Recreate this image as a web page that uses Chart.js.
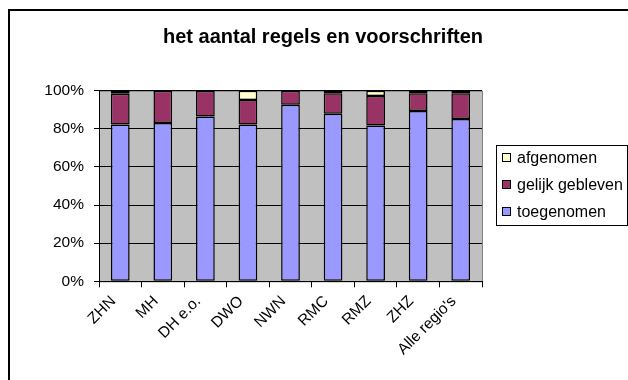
<!DOCTYPE html>
<html>
<head>
<meta charset="utf-8">
<script src="https://cdn.jsdelivr.net/npm/chart.js@4/dist/chart.umd.min.js"></script>
<style>
  html, body { margin: 0; padding: 0; background: #fff; }
  canvas { display: block; }
</style>
</head>
<body>
<canvas id="grafiekRegels" width="628" height="380"></canvas>
<script>
// regio's op de x-as
const regios = ['ZHN', 'MH', 'DH e.o.', 'DWO', 'NWN', 'RMC', 'RMZ', 'ZHZ', "Alle regio's"];

// percentages per regio (samen 100%)
const toegenomen     = [82.3, 83.0, 86.5, 82.3, 92.6, 87.9, 81.8, 89.3, 85.1];
const gelijkGebleven = [16.1, 17.0, 13.5, 12.8,  7.4, 10.7, 15.4,  9.3, 13.5];
const afgenomen      = [ 1.6,  0.0,  0.0,  4.9,  0.0,  1.4,  2.8,  1.4,  1.4];

const yTicks = [0, 20, 40, 60, 80, 100];
const titel = 'het aantal regels en voorschriften';

const lettertype = '"Liberation Sans", Arial, sans-serif';

// kader, titel, grijze achtergrond en legenda in Excel-stijl
const excelKader = {
  id: 'excelKader',
  beforeDraw(chart) {
    const ctx = chart.ctx;
    const a = chart.chartArea;
    ctx.save();
    ctx.fillStyle = '#fff';
    ctx.fillRect(0, 0, chart.width, chart.height);
    // buitenrand
    ctx.strokeStyle = '#000';
    ctx.lineWidth = 2;
    ctx.strokeRect(9, 10, chart.width + 20, chart.height + 20);
    // plotgebied
    ctx.fillStyle = '#c0c0c0';
    ctx.fillRect(a.left, a.top, a.right - a.left, a.bottom - a.top);
    ctx.strokeStyle = '#808080';
    ctx.lineWidth = 1;
    ctx.strokeRect(a.left + 0.5, a.top + 0.5, a.right - a.left, a.bottom - a.top);
    ctx.restore();
  },
  afterDraw(chart) {
    const ctx = chart.ctx;
    ctx.save();
    // titel
    ctx.fillStyle = '#000';
    ctx.font = 'bold 20px ' + lettertype;
    ctx.textAlign = 'center';
    ctx.textBaseline = 'alphabetic';
    ctx.fillText(titel, 323, 43);

    // legenda, bovenste serie eerst
    ctx.strokeStyle = '#000';
    ctx.lineWidth = 1;
    ctx.fillStyle = '#fff';
    ctx.fillRect(496.5, 145.5, 131, 80);
    ctx.strokeRect(496.5, 145.5, 131, 80);
    ctx.font = '16px ' + lettertype;
    ctx.textAlign = 'left';
    ctx.textBaseline = 'middle';
    const sets = chart.data.datasets.slice().reverse();
    sets.forEach((ds, i) => {
      const y = 158 + i * 27;
      ctx.fillStyle = ds.backgroundColor;
      ctx.fillRect(502.5, y - 4.5, 8, 8);
      ctx.strokeRect(502.5, y - 4.5, 8, 8);
      ctx.fillStyle = '#000';
      ctx.fillText(ds.label, 517, y + 1);
    });
    ctx.restore();
  }
};

const ctx = document.getElementById('grafiekRegels').getContext('2d');
const chart = new Chart(ctx, {
  type: 'bar',
  data: {
    labels: regios,
    datasets: [
      { label: 'toegenomen', data: toegenomen, backgroundColor: '#9999ff' },
      { label: 'gelijk gebleven', data: gelijkGebleven, backgroundColor: '#993366' },
      { label: 'afgenomen', data: afgenomen, backgroundColor: '#ffffcc' }
    ].map(ds => Object.assign(ds, {
      borderColor: '#000',
      borderWidth: 1.5,
      borderSkipped: false,
      inflateAmount: 0,
      categoryPercentage: 1,
      barPercentage: 0.44
    }))
  },
  options: {
    responsive: false,
    animation: false,
    layout: { padding: { left: 10, right: 146, top: 90.7, bottom: 0 } },
    plugins: {
      legend: { display: false },
      title: { display: false },
      tooltip: { enabled: false }
    },
    scales: {
      x: {
        stacked: true,
        afterFit: s => { s.height = 98.7; },
        grid: { drawOnChartArea: false, color: '#000', tickLength: 6 },
        border: { color: '#000' },
        ticks: {
          color: '#000',
          padding: 5,
          labelOffset: -7,
          font: { family: lettertype, size: 15.5 },
          minRotation: 45,
          maxRotation: 45,
          autoSkip: false
        }
      },
      y: {
        stacked: true,
        min: 0,
        max: 100,
        afterFit: s => { s.width = 89; },
        afterBuildTicks: s => { s.ticks = yTicks.map(v => ({ value: v })); },
        grid: { color: '#000', tickLength: 5 },
        border: { color: '#000' },
        ticks: {
          color: '#000',
          padding: 10,
          font: { family: lettertype, size: 15.5 },
          callback: v => v + '%'
        }
      }
    }
  },
  plugins: [excelKader]
});
</script>
</body>
</html>
